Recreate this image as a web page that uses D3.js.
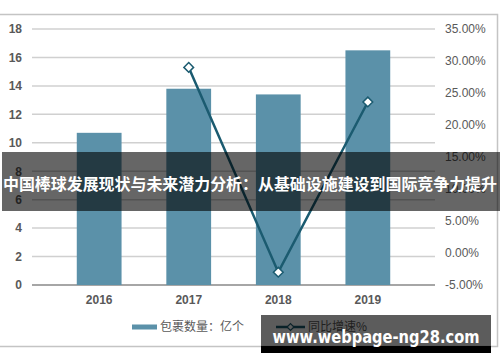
<!DOCTYPE html>
<html><head><meta charset="utf-8">
<script src="https://cdn.jsdelivr.net/npm/d3@7"></script>
<style>body{margin:0;background:#fff}svg{display:block}</style>
</head><body>
<svg id="c" width="500" height="362"></svg>
<script>
const categories = ["2016","2017","2018","2019"];
const parcels = [10.7, 13.8, 13.4, 16.5];
const growth = [null, 29.0, -3.0, 23.6];
const leftTicks = [0,2,4,6,8,10,12,14,16,18];
const rightTicks = [-5,0,5,10,15,20,25,30,35];
const legendLabels = ["包裹数量：亿个","同比增速%"];
const title = "中国棒球发展现状与未来潜力分析：从基础设施建设到国际竞争力提升";
const watermark = "www.webpage-ng28.com";

const svg = d3.select("#c");
const L = 32, R = 435, T = 29, B = 285;
const barColor = "#5b91a9", lineColor = "#1b5b70", txt = "#595959";

// frame
svg.append("path").attr("d","M0,14.5H497.5V346.5H0").attr("fill","none").attr("stroke","#c4c4c4").attr("stroke-width",1.5);

const x = d3.scaleBand().domain(categories).range([L,R]).padding(0.5);
const y = d3.scaleLinear().domain([0,18]).range([B,T]);
const y2 = d3.scaleLinear().domain([-5,35]).range([B,T]);

// gridlines
svg.append("g").selectAll("line").data(leftTicks).join("line")
  .attr("x1",L).attr("x2",R).attr("y1",d=>y(d)).attr("y2",d=>y(d))
  .attr("stroke",d=>d===0?"#a6a6a6":"#d0d0d0").attr("stroke-width",d=>d===0?2:1.5);

// left axis labels
const ga = svg.append("g").attr("transform",`translate(${L-10},0)`)
  .call(d3.axisLeft(y).tickValues(leftTicks).tickSize(0).tickPadding(0));
ga.select(".domain").remove();
ga.selectAll("text").attr("font-family","Liberation Sans, Arial, sans-serif").attr("font-size",12).attr("font-weight","bold").attr("fill",txt);

// right axis labels
const gr = svg.append("g").attr("transform",`translate(${R+10},0)`)
  .call(d3.axisRight(y2).tickValues(rightTicks).tickSize(0).tickPadding(0).tickFormat(d=>d.toFixed(2)+"%"));
gr.select(".domain").remove();
gr.selectAll("text").attr("font-family","Liberation Sans, Arial, sans-serif").attr("font-size",12).attr("fill",txt);

// x axis labels
const gx = svg.append("g").attr("transform",`translate(0,${B+8})`)
  .call(d3.axisBottom(x).tickSize(0).tickPadding(0));
gx.select(".domain").remove();
gx.selectAll("text").attr("font-family","Liberation Sans, Arial, sans-serif").attr("font-size",12).attr("font-weight","bold").attr("fill",txt).attr("dy","0.9em");

// bars
svg.append("g").selectAll("rect").data(parcels).join("rect")
  .attr("x",(d,i)=>x(categories[i])).attr("width",x.bandwidth())
  .attr("y",d=>y(d)).attr("height",d=>B-y(d)).attr("fill",barColor);

// line
const pts = growth.map((v,i)=>({c:categories[i],v})).filter(d=>d.v!==null);
const line = d3.line().x(d=>x(d.c)+x.bandwidth()/2).y(d=>y2(d.v));
svg.append("path").datum(pts).attr("d",line).attr("fill","none").attr("stroke",lineColor).attr("stroke-width",2.5);
const diamond = d3.symbol().type(d3.symbolDiamond2).size(60);
svg.append("g").selectAll("path").data(pts).join("path")
  .attr("d",diamond).attr("transform",d=>`translate(${x(d.c)+x.bandwidth()/2},${y2(d.v)})`)
  .attr("fill","#fff").attr("stroke",lineColor).attr("stroke-width",1.5);

// legend
const lg = svg.append("g");
lg.append("rect").attr("x",132).attr("y",324.5).attr("width",25).attr("height",5).attr("fill",barColor);
lg.append("text").attr("x",160).attr("y",331).text(legendLabels[0])
  .attr("font-family","Noto Sans CJK SC, sans-serif").attr("font-size",12).attr("fill",txt);
lg.append("line").attr("x1",276).attr("x2",305).attr("y1",327).attr("y2",327).attr("stroke",lineColor).attr("stroke-width",2.5);
lg.append("path").attr("d",d3.symbol().type(d3.symbolDiamond2).size(30)).attr("transform","translate(290.5,327)")
  .attr("fill","#fff").attr("stroke",lineColor).attr("stroke-width",1.2);
lg.append("text").attr("x",308).attr("y",331).text(legendLabels[1])
  .attr("font-family","Noto Sans CJK SC, sans-serif").attr("font-size",12).attr("fill",txt);

// title banner
svg.append("rect").attr("x",2).attr("y",152).attr("width",498).attr("height",59).attr("fill","rgba(0,0,0,0.6)");
svg.append("text").attr("x",250).attr("y",183).attr("text-anchor","middle").attr("dominant-baseline","central")
  .attr("font-family","Noto Sans CJK SC, sans-serif").attr("font-weight","bold").attr("font-size",16).attr("fill","#fff")
  .attr("textLength",494).attr("lengthAdjust","spacingAndGlyphs").text(title);

// watermark
svg.append("rect").attr("x",261).attr("y",315).attr("width",230).attr("height",38).attr("fill","rgba(0,0,0,0.64)");
svg.append("rect").attr("x",261).attr("y",346).attr("width",230).attr("height",7).attr("fill","#000");
svg.append("text").attr("x",376).attr("y",337).attr("text-anchor","middle").attr("dominant-baseline","central")
  .attr("font-family","DejaVu Sans, sans-serif").attr("font-weight","bold").attr("font-size",17).attr("fill","#fff")
  .attr("textLength",207).attr("lengthAdjust","spacingAndGlyphs").text(watermark);
</script>
</body></html>
